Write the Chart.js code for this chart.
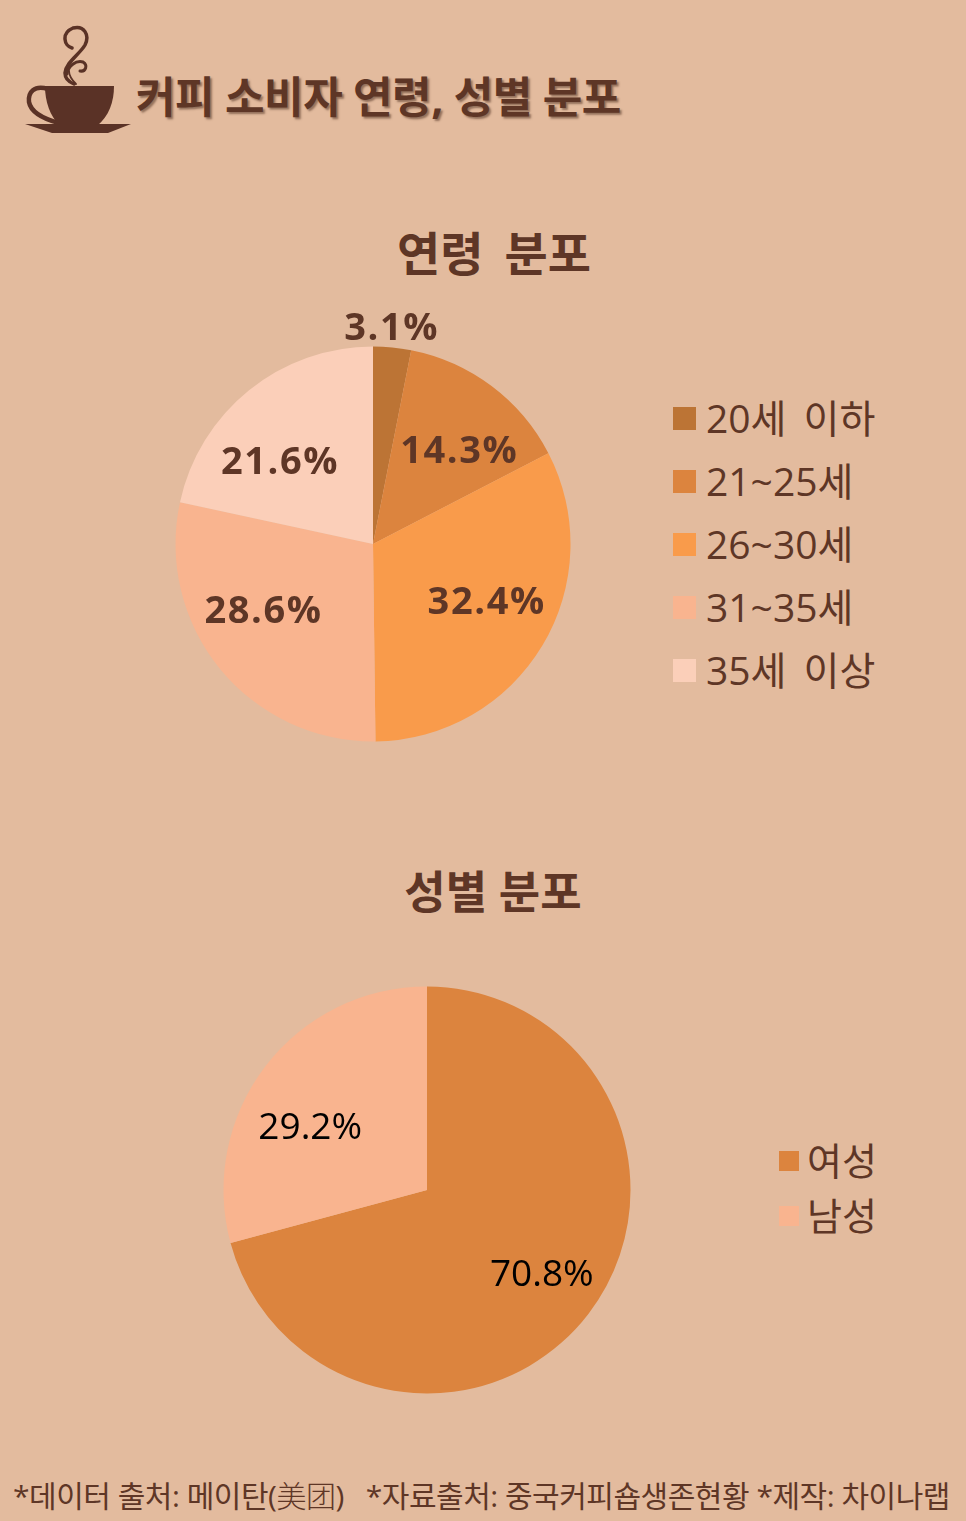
<!DOCTYPE html>
<html lang="ko">
<head>
<meta charset="utf-8">
<title>커피 소비자 연령, 성별 분포</title>
<script src="https://cdn.jsdelivr.net/npm/chart.js@4"></script>
<style>
  html, body { margin: 0; padding: 0; }
  body {
    position: relative; width: 966px; height: 1521px; overflow: hidden;
    background: #E3BB9E; color: #5E3626;
    font-family: "Open Sans", "Noto Sans CJK KR", sans-serif;
  }
  canvas { position: absolute; }
  .txt { position: absolute; white-space: nowrap; line-height: 1; }
  #title { left: 136px; top: 75px; font-size: 43px; font-weight: 700; letter-spacing: -0.45px; text-shadow: 2px 2px 2px rgba(70,40,25,.5); }
  .sub { font-size: 45px; font-weight: 700; transform: translateX(-50%); }
  #footer { left: 13px; top: 1479px; font-size: 30px; letter-spacing: -0.48px; }
  #footer .cn { font-family: "Noto Sans CJK SC"; font-weight: 300; }
  .legend { position: absolute; }
  .legend div { position: absolute; left: 0; white-space: nowrap; line-height: 1; }
  .legend i { position: absolute; left: 0; display: block; }
  #icon { position: absolute; left: 24px; top: 24px; }
</style>
</head>
<body>
<svg id="icon" width="108" height="112" viewBox="0 0 108 112">
  <g fill="none" stroke="#5A3226" stroke-linecap="round">
    <path d="M48 24 C40 22 37 9 49 4 C60 1 66 11 61 21 C56 30 42 38 41 49 C41 54 45 58 50 60" stroke-width="3.5"/>
    <path d="M43 50 C44 42 52 36 59 38 C64 41 62 48 56 47" stroke-width="3"/>
    <path d="M45 47 C45 52 48 56 52 60" stroke-width="1.8"/>
    <path d="M24 65 C10 61 4 68 5 78 C7 89 20 95 35 99" stroke-width="4.5"/>
  </g>
  <path d="M21 62 H90 C90 78 85 92 73 102 H36 C26 92 21 78 21 62 Z" fill="#5A3226"/>
  <path d="M1 100 H107 L84 109 H28 Z" fill="#5A3226"/>
</svg>
<div id="title" class="txt">커피 소비자 연령, 성별 분포</div>

<div class="txt sub" style="left:494px;top:230px;font-size:47px;word-spacing:9px">연령 분포</div>
<canvas id="ageChart" style="left:153px;top:300px"></canvas>
<div id="ageLegend" class="legend" style="left:673px;top:0"></div>

<div class="txt sub" style="left:493px;top:869px">성별 분포</div>
<canvas id="genderChart" style="left:207px;top:970px"></canvas>
<div id="genderLegend" class="legend" style="left:779px;top:0"></div>

<div id="footer" class="txt">*데이터 출처: 메이탄(<span class="cn">美团</span>) &nbsp; *자료출처: 중국커피숍생존현황 *제작: 차이나랩</div>

<script>
const ageLabels = ['20세 이하', '21~25세', '26~30세', '31~35세', '35세 이상'];
const ageValues = [3.1, 14.3, 32.4, 28.6, 21.6];
const ageColors = ['#BC7435', '#DC843E', '#F99B4B', '#F9B48F', '#FBCFB9'];

const genderLabels = ['여성', '남성'];
const genderValues = [70.8, 29.2];
const genderColors = ['#DC843E', '#F9B48F'];

// Draws the percent text on each slice, nudged from the slice centre by the chart's own offsets.
const sliceLabels = {
  id: 'sliceLabels',
  afterDatasetsDraw(chart, args, opts) {
    const ctx = chart.ctx;
    const values = chart.data.datasets[0].data;
    ctx.save();
    ctx.font = opts.font;
    ctx.letterSpacing = opts.spacing;
    ctx.fillStyle = opts.color;
    ctx.textAlign = 'center';
    ctx.textBaseline = 'middle';
    chart.getDatasetMeta(0).data.forEach((arc, i) => {
      const p = arc.tooltipPosition();
      ctx.fillText(values[i].toFixed(1) + '%', p.x + opts.offsets[i][0], p.y + opts.offsets[i][1]);
    });
    ctx.restore();
  }
};

function createPie(canvasId, width, height, radius, labels, values, colors, labelOpts) {
  const canvas = document.getElementById(canvasId);
  canvas.width = width;
  canvas.height = height;
  return new Chart(canvas, {
    type: 'pie',
    data: {
      labels: labels,
      datasets: [{ data: values, backgroundColor: colors, borderWidth: 0, radius: radius }]
    },
    options: {
      responsive: false,
      animation: false,
      plugins: {
        legend: { display: false },
        tooltip: { enabled: false },
        sliceLabels: labelOpts
      }
    },
    plugins: [sliceLabels]
  });
}

function buildLegend(id, labels, colors, tops, box, fontSize, textLeft, wordGap) {
  const root = document.getElementById(id);
  labels.forEach((label, i) => {
    const swatch = document.createElement('i');
    swatch.style.cssText = `top:${tops[i] - box / 2}px;width:${box}px;height:${box}px;background:${colors[i]}`;
    const text = document.createElement('div');
    text.textContent = label;
    text.style.cssText = `left:${textLeft}px;top:${tops[i] - fontSize / 2 - 1}px;font-size:${fontSize}px;word-spacing:${wordGap}px`;
    root.append(swatch, text);
  });
}

createPie('ageChart', 440, 488, 197.5, ageLabels, ageValues, ageColors, {
  font: '700 38px "Open Sans", "Noto Sans CJK KR"',
  spacing: '1.6px',
  color: '#5E3626',
  offsets: [[9, -117], [27, -13], [29, 8], [-33, 6], [-31, -4]]
});
createPie('genderChart', 440, 440, 203.5, genderLabels, genderValues, genderColors, {
  font: '37px "Open Sans", "Noto Sans CJK KR"',
  spacing: '0px',
  color: '#000000',
  offsets: [[34, 24], [-36, 0]]
});

buildLegend('ageLegend', ageLabels, ageColors, [418, 481, 544, 607, 670], 23, 39, 33, 7);
buildLegend('genderLegend', genderLabels, genderColors, [1161, 1216], 20, 38, 28, 0);
</script>
</body>
</html>
